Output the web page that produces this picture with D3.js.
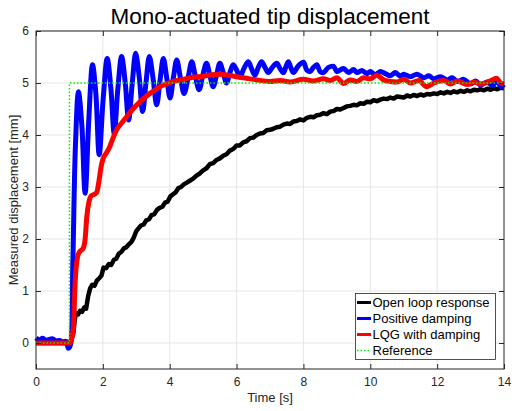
<!DOCTYPE html>
<html><head><meta charset="utf-8">
<script src="https://cdn.jsdelivr.net/npm/d3@7"></script>
<style>body{margin:0;background:#fff}svg{display:block}text{font-family:"Liberation Sans",Arial,sans-serif}</style>
</head><body><svg id="c" width="512" height="411"></svg>
<script>
const xTicks=[0,2,4,6,8,10,12,14];
const yTicks=[0,1,2,3,4,5,6];
const refT=[0,1,1,14];
const refV=[0,0,5,5];
const openT=[0,0.3,0.6,0.9,1.05,1.12,1.16,1.2,1.26,1.32,1.38,1.44,1.5,1.56,1.62,1.68,1.75,1.82,1.9,1.96,2.02,2.1,2.18,2.25,2.33,2.4,2.48,2.55,2.63,2.7,2.78,2.85,2.92,3.0,3.06,3.14,3.22,3.3,3.38,3.46,3.54,3.62,3.7,3.78,3.86,3.94,4.02,4.1,4.18,4.26,4.34,4.42,4.5,4.6,4.7,4.8,4.9,5.0,5.1,5.2,5.3,5.4,5.5,5.6,5.7,5.8,5.9,6.0,6.1,6.2,6.3,6.4,6.5,6.6,6.7,6.8,6.9,7.0,7.1,7.2,7.3,7.4,7.5,7.6,7.7,7.8,7.9,8.0,8.1,8.2,8.3,8.4,8.5,8.6,8.7,8.8,8.9,9.0,9.1,9.2,9.3,9.4,9.5,9.6,9.7,9.8,9.9,10.0,10.1,10.2,10.3,10.4,10.5,10.6,10.7,10.8,10.9,11.0,11.1,11.2,11.3,11.4,11.5,11.6,11.7,11.8,11.9,12.0,12.1,12.2,12.3,12.4,12.5,12.6,12.7,12.8,12.9,13.0,13.1,13.2,13.3,13.4,13.5,13.6,13.7,13.8,13.9,14.0];
const openV=[0,0,0,0,0.03,0.2,0.45,0.58,0.55,0.62,0.6,0.68,0.66,0.9,1.05,1.12,1.1,1.2,1.25,1.3,1.45,1.44,1.52,1.5,1.6,1.62,1.72,1.75,1.82,1.84,1.9,1.94,2.02,2.15,2.2,2.26,2.28,2.36,2.38,2.46,2.48,2.56,2.6,2.62,2.7,2.72,2.82,2.86,2.9,2.98,3.0,3.05,3.08,3.12,3.16,3.22,3.26,3.32,3.36,3.44,3.46,3.52,3.55,3.6,3.63,3.7,3.73,3.8,3.8,3.86,3.88,3.94,3.95,4.0,4.03,4.04,4.09,4.1,4.12,4.15,4.16,4.2,4.22,4.21,4.26,4.27,4.3,4.28,4.33,4.35,4.34,4.38,4.39,4.42,4.4,4.45,4.46,4.5,4.49,4.52,4.55,4.56,4.58,4.57,4.61,4.6,4.64,4.63,4.67,4.65,4.68,4.7,4.69,4.72,4.7,4.74,4.73,4.72,4.76,4.74,4.77,4.75,4.78,4.76,4.79,4.78,4.8,4.79,4.82,4.8,4.83,4.81,4.84,4.82,4.85,4.83,4.86,4.84,4.87,4.86,4.88,4.86,4.89,4.87,4.9,4.88,4.91,4.9];
const posT=[0,0.1,0.2,0.3,0.4,0.5,0.6,0.7,0.8,0.9,0.97,1.03,1.1,1.18,1.27,1.37,1.47,1.58,1.69,1.79,1.89,2.01,2.13,2.24,2.34,2.45,2.56,2.67,2.77,2.88,2.98,3.09,3.19,3.29,3.39,3.5,3.61,3.71,3.81,3.91,4.01,4.11,4.21,4.32,4.43,4.55,4.66,4.76,4.88,4.99,5.1,5.2,5.3,5.4,5.5,5.6,5.7,5.8,5.9,6.0,6.1,6.22,6.35,6.45,6.55,6.65,6.75,6.85,6.95,7.07,7.2,7.3,7.4,7.48,7.55,7.62,7.7,7.85,8.0,8.1,8.2,8.3,8.4,8.5,8.6,8.75,8.9,9.0,9.1,9.2,9.35,9.5,9.6,9.75,9.9,10.0,10.15,10.3,10.45,10.6,10.75,10.9,11.0,11.2,11.4,11.6,11.75,11.9,12.1,12.3,12.45,12.6,12.8,13.0,13.15,13.3,13.5,13.65,13.8,13.9,14.0];
const posV=[0.1,0.06,0.09,0.05,0.07,0.08,0.04,0.05,0.02,0.03,-0.1,-0.04,1.5,3.8,4.83,4.2,2.88,4.3,5.35,4.8,3.62,4.7,5.47,4.9,4.03,4.9,5.51,5.0,4.29,5.0,5.57,5.1,4.45,5.0,5.51,5.1,4.58,5.05,5.47,5.1,4.71,5.1,5.44,5.1,4.8,5.1,5.41,5.15,4.87,5.15,5.38,5.15,4.93,5.15,5.38,5.2,5.0,5.2,5.35,5.25,5.12,5.28,5.41,5.27,5.15,5.3,5.41,5.3,5.2,5.3,5.38,5.28,5.2,5.32,5.41,5.3,5.2,5.33,5.4,5.25,5.22,5.3,5.35,5.22,5.2,5.3,5.32,5.22,5.25,5.28,5.2,5.26,5.2,5.24,5.18,5.22,5.16,5.22,5.18,5.14,5.2,5.13,5.17,5.12,5.17,5.1,5.14,5.08,5.12,5.06,5.1,5.03,5.07,4.98,5.04,4.96,5.02,4.95,5.05,4.93,4.97];
const lqgT=[0,0.5,1.0,1.05,1.12,1.17,1.24,1.3,1.41,1.47,1.52,1.58,1.65,1.75,1.82,1.88,1.95,2.01,2.1,2.21,2.31,2.41,2.55,2.71,2.9,3.11,3.25,3.41,3.55,3.71,3.9,4.11,4.4,4.7,5.0,5.25,5.5,5.75,6.0,6.3,6.6,7.0,7.3,7.6,8.0,8.3,8.6,8.8,9.0,9.2,9.4,9.6,9.8,10.0,10.19,10.4,10.6,10.8,11.0,11.2,11.45,11.69,11.9,12.2,12.4,12.6,12.9,13.1,13.3,13.55,13.78,13.9,14.0];
const lqgV=[0,0,0,0.05,0.3,1.15,1.65,1.75,1.82,2.0,2.43,2.7,2.83,2.86,2.9,3.1,3.4,3.55,3.65,3.78,3.95,4.1,4.22,4.35,4.5,4.64,4.72,4.8,4.86,4.93,4.98,5.03,5.07,5.11,5.13,5.16,5.17,5.15,5.12,5.09,5.06,5.03,5.05,5.02,5.07,5.04,5.08,5.05,5.1,4.99,5.06,5.03,5.1,5.08,5.15,5.06,5.03,5.02,5.07,5.0,5.05,4.93,5.0,5.05,4.98,5.04,4.97,5.02,4.98,5.03,5.09,5.0,4.98];
const legendLabels=["Open loop response","Positive damping","LQG with damping","Reference"];

const svg=d3.select("#c");
const L=36,R=504,T=31,B=369;
const x=d3.scaleLinear().domain([0,14]).range([L,R]);
const y=d3.scaleLinear().domain([-0.5,6]).range([B,T]);
const axisCol="#262626", gridCol="#e5e5e5";

svg.append("g").selectAll("line").data(xTicks.slice(1,-1)).join("line")
 .attr("x1",d=>x(d)).attr("x2",d=>x(d)).attr("y1",T).attr("y2",B).attr("stroke",gridCol).attr("stroke-width",1);
svg.append("g").selectAll("line").data(yTicks).join("line")
 .attr("y1",d=>y(d)).attr("y2",d=>y(d)).attr("x1",L).attr("x2",R).attr("stroke",gridCol).attr("stroke-width",1);

const zip=(t,v)=>t.map((d,i)=>[d,v[i]]);
const lineLin=d3.line().x(d=>x(d[0])).y(d=>y(d[1]));
const lineSm=d3.line().x(d=>x(d[0])).y(d=>y(d[1])).curve(d3.curveCatmullRom.alpha(0.5));
const lineMono=d3.line().x(d=>x(d[0])).y(d=>y(d[1])).curve(d3.curveMonotoneX);

const plot=svg.append("g");
plot.append("path").attr("d",lineLin(zip(openT,openV))).attr("fill","none").attr("stroke","#000").attr("stroke-width",4.5).attr("stroke-linejoin","round");
plot.append("path").attr("d",lineSm(zip(posT,posV))).attr("fill","none").attr("stroke","#0000ff").attr("stroke-width",5).attr("stroke-linejoin","round");
plot.append("path").attr("d",lineMono(zip(lqgT,lqgV))).attr("fill","none").attr("stroke","#ff0000").attr("stroke-width",5).attr("stroke-linejoin","round");
plot.append("path").attr("d",lineLin(zip(refT,refV))).attr("fill","none").attr("stroke","#00ee00").attr("stroke-width",1.5).attr("stroke-dasharray","1.5,2");

const tl=5;
const bx=svg.append("g").attr("transform",`translate(0,${B})`).call(d3.axisBottom(x).tickValues(xTicks).tickSize(-tl).tickPadding(8).tickFormat(d3.format("d")));
const tx=svg.append("g").attr("transform",`translate(0,${T})`).call(d3.axisTop(x).tickValues(xTicks).tickSize(-tl).tickFormat(""));
const ly=svg.append("g").attr("transform",`translate(${L},0)`).call(d3.axisLeft(y).tickValues(yTicks).tickSize(-tl).tickPadding(7).tickFormat(d3.format("d")));
const ry=svg.append("g").attr("transform",`translate(${R},0)`).call(d3.axisRight(y).tickValues(yTicks).tickSize(-tl).tickFormat(""));
[bx,tx,ly,ry].forEach(g=>{g.selectAll("path,line").attr("stroke",axisCol).attr("stroke-width",1);g.selectAll("text").attr("fill",axisCol).style("font-size","12px").style("font-family","Liberation Sans, Arial, sans-serif");g.select(".domain").attr("d",null);});
svg.append("rect").attr("x",L).attr("y",T).attr("width",R-L).attr("height",B-T).attr("fill","none").attr("stroke",axisCol).attr("stroke-width",1);

svg.append("text").attr("x",270).attr("y",24).attr("text-anchor","middle").style("font-size","22.5px").attr("fill","#000").text("Mono-actuated tip displacement");
svg.append("text").attr("x",270).attr("y",402).attr("text-anchor","middle").style("font-size","13px").attr("fill",axisCol).text("Time [s]");
svg.append("text").attr("transform","translate(18,200) rotate(-90)").attr("text-anchor","middle").style("font-size","13px").attr("fill",axisCol).text("Measured displacement [mm]");

const lg=svg.append("g");
lg.append("rect").attr("x",355.5).attr("y",293.5).attr("width",140).attr("height",66).attr("fill","#fff").attr("stroke",axisCol).attr("stroke-width",0.8);
const cols=["#000","#0000ff","#ff0000","#00ee00"];
const ys=[302.5,318.5,334.5,350.5];
legendLabels.forEach((lab,i)=>{
  const l=lg.append("line").attr("x1",357).attr("x2",371).attr("y1",ys[i]).attr("y2",ys[i]).attr("stroke",cols[i]).attr("stroke-width",i<3?3:1.5);
  if(i===3) l.attr("stroke-dasharray","1.5,2");
  lg.append("text").attr("x",372.5).attr("y",ys[i]+4.5).style("font-size","13px").attr("fill","#000").text(lab);
});
</script></body></html>
